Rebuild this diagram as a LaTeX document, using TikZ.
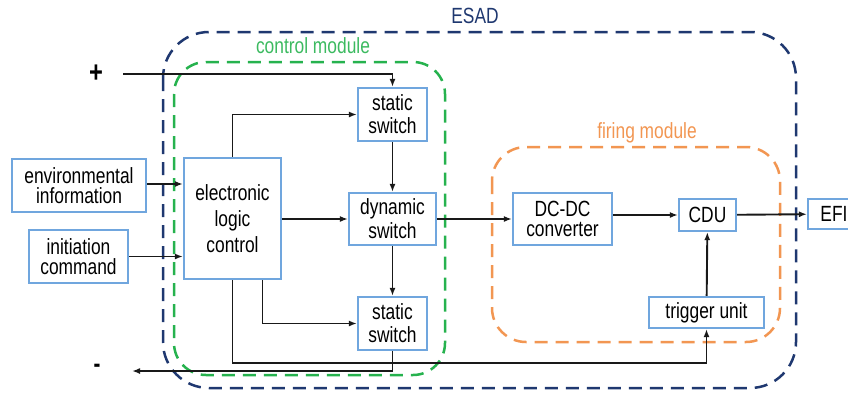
\documentclass[tikz,border=0pt]{standalone}
\usepackage{fontspec}
\setmainfont{Liberation Sans}[FakeStretch=0.79]
\usetikzlibrary{arrows.meta}

\definecolor{esadblue}{RGB}{31,56,112}
\definecolor{ctrlgreen}{RGB}{38,178,78}
\definecolor{fireorange}{RGB}{242,150,82}
\definecolor{boxblue}{RGB}{112,166,222}

\begin{document}
\begin{tikzpicture}[
  x=1pt,y=-1pt,
  font=\fontsize{22}{23}\selectfont,
  >={Latex[length=8pt,width=6pt]},
  block/.style={draw=boxblue,line width=2.2pt,fill=white,align=center,inner sep=0pt},
  tight/.style={font=\fontsize{22}{20}\selectfont},
  line/.style={->,line width=1.9pt,black!90},
  module/.style={dash pattern=on 13pt off 8pt,line width=2.5pt,rounded corners=#1}
]
\useasboundingbox (0,0) rectangle (848,392);

% nested module outlines and their titles
\draw[module=46pt,esadblue] (163,32) rectangle (796,388);
\draw[module=32pt,ctrlgreen] (174,62) rectangle (445,375);
\draw[module=34pt,fireorange] (492,147) rectangle (780,342);
\node[text=esadblue] (esad) at (475,16) {ESAD};
\node[text=ctrlgreen!90!white] (ctrl) at (313,46) {control module};
\node[text=fireorange] (fire) at (647,133) {firing module};

% inputs and control module
\node[block,tight,minimum width=134,minimum height=53] (env) at (79,185.5) {environmental\\information};
\node[block,tight,minimum width=99,minimum height=53] (init) at (78.5,256.5) {initiation\\command};
\node[block,font=\fontsize{22}{26}\selectfont,minimum width=97,minimum height=121] (elc) at (232.5,218.5) {electronic\\logic\\control};
\node[block,minimum width=69,minimum height=53] (sst) at (392.5,114.5) {static\\switch};
\node[block,font=\fontsize{22}{24}\selectfont,minimum width=87,minimum height=52] (dyn) at (392.5,219) {dynamic\\switch};
\node[block,minimum width=69,minimum height=53] (ssb) at (392.5,323.5) {static\\switch};

% firing module and output
\node[block,tight,minimum width=99,minimum height=52] (dcdc) at (562.5,219) {DC-DC\\converter};
\node[block,minimum width=57,minimum height=32] (cdu) at (707.5,215) {CDU};
\node[block,minimum width=115,minimum height=31] (trig) at (706.5,312.5) {trigger unit};
\node[block,minimum width=52,minimum height=30] (efi) at (834,214) {EFI};

% supply rails
\node[font=\fontsize{30}{30}\selectfont] (plus) at (96,74) {\textbf{+}};
\node[font=\fontsize{26}{26}\selectfont] (minus) at (97,368) {\textbf{-}};
\coordinate (pin) at (123,74);
\coordinate (nout) at (132,371);

\draw[line] (pin) -| (sst.north);
\draw[line] (ssb.south) |- (nout);
\draw[line] (env.east |- 0,184) -- (elc.west |- 0,184);
\draw[line] (init.east) -- (elc.west |- init.east);
\draw[line] (elc.north) |- (sst.west);
\draw[line] (elc.east |- dyn.west) -- (dyn.west);
\draw[line] ([xshift=30pt]elc.south) |- (ssb.west);
\draw[line] (elc.south) -- ++(0,83) -| (trig.south);
\draw[line] (sst) -- (dyn);
\draw[line] (dyn) -- (ssb);
\draw[line] (dyn) -- (dcdc);
\draw[line] (dcdc.east |- cdu.west) -- (cdu.west);
\draw[line] (trig) -- (cdu);
\draw[line] (cdu) -- (efi);
\end{tikzpicture}
\end{document}
